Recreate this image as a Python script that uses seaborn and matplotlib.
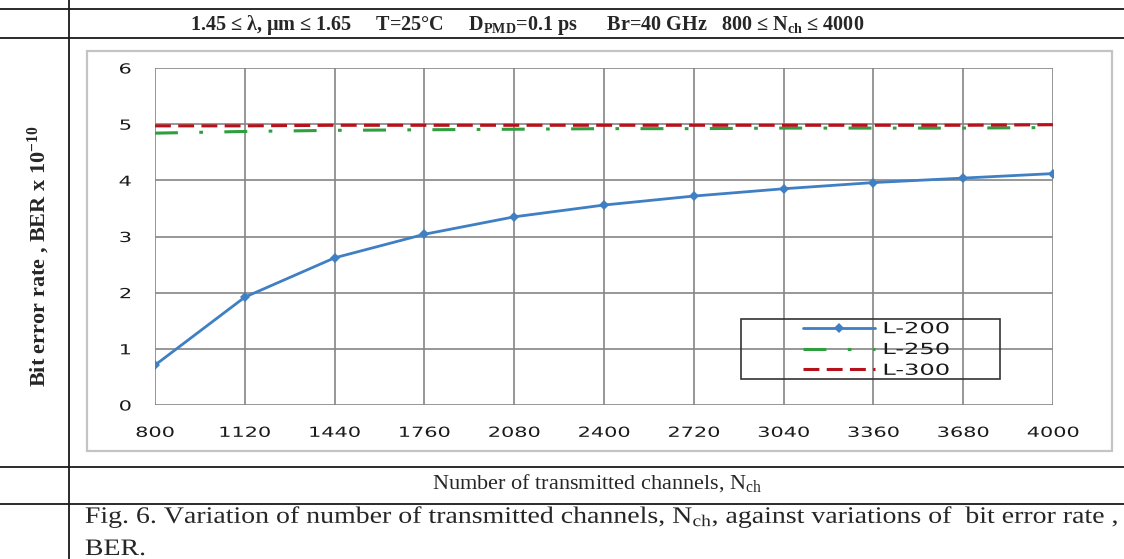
import numpy as np
import pandas as pd
import matplotlib
matplotlib.use("Agg")
import matplotlib.pyplot as plt
import seaborn as sns
from matplotlib.lines import Line2D
from matplotlib.patches import Rectangle
from matplotlib.patheffects import AbstractPathEffect
from matplotlib.transforms import Affine2D

# Number of transmitted channels and BER (x 1e-10) for three link lengths
channels = [800, 1120, 1440, 1760, 2080, 2400, 2720, 3040, 3360, 3680, 4000]
ber_l200 = [0.71, 1.92, 2.62, 3.04, 3.35, 3.56, 3.72, 3.85, 3.96, 4.04, 4.12]
ber_l250 = [4.84, 4.87, 4.89, 4.90, 4.91, 4.92, 4.92, 4.93, 4.93, 4.93, 4.94]
ber_l300 = [4.97, 4.97, 4.98, 4.98, 4.98, 4.98, 4.98, 4.98, 4.98, 4.98, 4.99]
series_names = ["L-200", "L-250", "L-300"]
y_ticks = [0, 1, 2, 3, 4, 5, 6]


class StretchX(AbstractPathEffect):
    """Draw text glyphs widened horizontally about a chosen anchor."""

    def __init__(self, sx, anchor="center"):
        super().__init__()
        self.sx = sx
        self.anchor = anchor

    def draw_path(self, renderer, gc, tpath, affine, rgbFace=None):
        ext = tpath.get_extents(affine)
        if self.anchor == "left":
            cx = ext.x0
        elif self.anchor == "right":
            cx = ext.x1
        else:
            cx = 0.5 * (ext.x0 + ext.x1)
        wide = affine + Affine2D().translate(-cx, 0).scale(self.sx, 1).translate(cx, 0)
        renderer.draw_path(gc, tpath, wide, rgbFace)


sns.set_style("white")
plt.rcParams["font.family"] = ["DejaVu Sans"]
plt.rcParams["mathtext.fontset"] = "custom"
plt.rcParams["mathtext.rm"] = "Liberation Serif"
plt.rcParams["mathtext.it"] = "Liberation Serif:italic"
plt.rcParams["mathtext.bf"] = "Liberation Serif:bold"

W, H = 1124, 559
fig = plt.figure(figsize=(W / 100, H / 100), dpi=100)


def fx(px):
    return px / W


def fy(py):
    return 1 - py / H


# Table rules around the chart
rule_kw = dict(color="#1a1a1a", lw=1.3, transform=fig.transFigure)
for yy in [9, 38, 467, 504]:
    fig.add_artist(Line2D([0, 1], [fy(yy), fy(yy)], **rule_kw))
fig.add_artist(Line2D([fx(69), fx(69)], [0, 1], **rule_kw))

# Chart area border
fig.add_artist(Rectangle((fx(87), fy(451)), fx(1112) - fx(87), fy(51) - fy(451),
                         transform=fig.transFigure, fill=False,
                         edgecolor="#c4c4c4", lw=1.6))

ax = fig.add_axes([fx(155), fy(405), fx(1053) - fx(155), fy(68) - fy(405)])

colors = {"L-200": "#3f7fc4", "L-250": "#2e9e3e", "L-300": "#b5121b"}
styles = {
    "L-200": dict(lw=2.0, marker="D", markersize=5, markeredgewidth=0),
    "L-250": dict(lw=2.2, dashes=(7.5, 7.0, 1.2, 7.0)),
    "L-300": dict(lw=2.2, dashes=(5.2, 2.4)),
}
zorders = {"L-200": 4, "L-250": 3, "L-300": 5}

for name, vals in zip(series_names, [ber_l200, ber_l250, ber_l300]):
    sns.lineplot(x=channels, y=vals, color=colors[name], ax=ax,
                 zorder=zorders[name], **styles[name])

ax.set_xlim(channels[0], channels[-1])
ax.set_ylim(y_ticks[0], y_ticks[-1])
ax.set_xticks(channels)
ax.set_xticklabels([str(c) for c in channels])
ax.set_yticks(y_ticks)
ax.set_yticklabels([str(t) for t in y_ticks])
ax.set_xlabel("")
ax.set_ylabel("")
for sp in ax.spines.values():
    sp.set_visible(False)
ax.grid(True, color="#858585", lw=1.2)
ax.set_axisbelow(True)
ax.tick_params(axis="both", length=6, width=1.2, color="#858585",
               labelsize=10, labelcolor="#1a1a1a")
ax.tick_params(axis="x", pad=9)
ax.tick_params(axis="y", pad=11)
for lab in ax.get_xticklabels():
    lab.set_path_effects([StretchX(1.5, "center")])
for lab in ax.get_yticklabels():
    lab.set_path_effects([StretchX(1.5, "right")])

# Legend
handles = [Line2D([], [], color=colors[n], **styles[n]) for n in series_names]
leg = ax.legend(handles, series_names, loc="center left",
                bbox_to_anchor=((803 - 155) / 898, (405 - 349.5) / 337),
                frameon=False, fontsize=11, handlelength=4.7,
                handletextpad=0.55, labelspacing=0.38, borderpad=0,
                borderaxespad=0)
for t in leg.get_texts():
    t.set_color("#1a1a1a")
    t.set_path_effects([StretchX(1.58, "left")])
ax.add_patch(Rectangle(((741 - 155) / 898, (405 - 379) / 337),
                       (1000 - 741) / 898, (379 - 319) / 337,
                       transform=ax.transAxes, fill=False, edgecolor="#333333",
                       lw=1.2, zorder=6))

# Header, axis titles and caption
serif = "Liberation Serif"
fig.text(fx(527), fy(30),
         "1.45 ≤ λ, μm ≤ 1.65     T=25°C     D$_{\\mathbf{PMD}}$=0.1 ps      "
         "Br=40 GHz   800 ≤ N$_{\\mathbf{ch}}$ ≤ 4000",
         ha="center", va="baseline", family=serif, fontweight="bold",
         fontsize=14.5)
fig.text(fx(39), fy(256), "Bit error rate , BER x 10$^{\\mathbf{-10}}$",
         rotation=90, ha="center", va="center", family=serif,
         fontweight="bold", fontsize=16)
fig.text(fx(597), fy(489), "Number of transmitted channels, N$_{\\mathrm{ch}}$",
         ha="center", va="baseline", family=serif, fontsize=16)
cap_kw = dict(ha="left", va="baseline", family=serif, fontsize=17)
t1 = fig.text(fx(85), fy(523),
              "Fig. 6. Variation of number of transmitted channels, N$_{\\mathrm{ch}}$, "
              "against variations of  bit error rate ,", **cap_kw)
t2 = fig.text(fx(85), fy(555), "BER.", **cap_kw)
for t in (t1, t2):
    t.set_path_effects([StretchX(1.18, "left")])

fig.savefig("out.png", dpi=100)
